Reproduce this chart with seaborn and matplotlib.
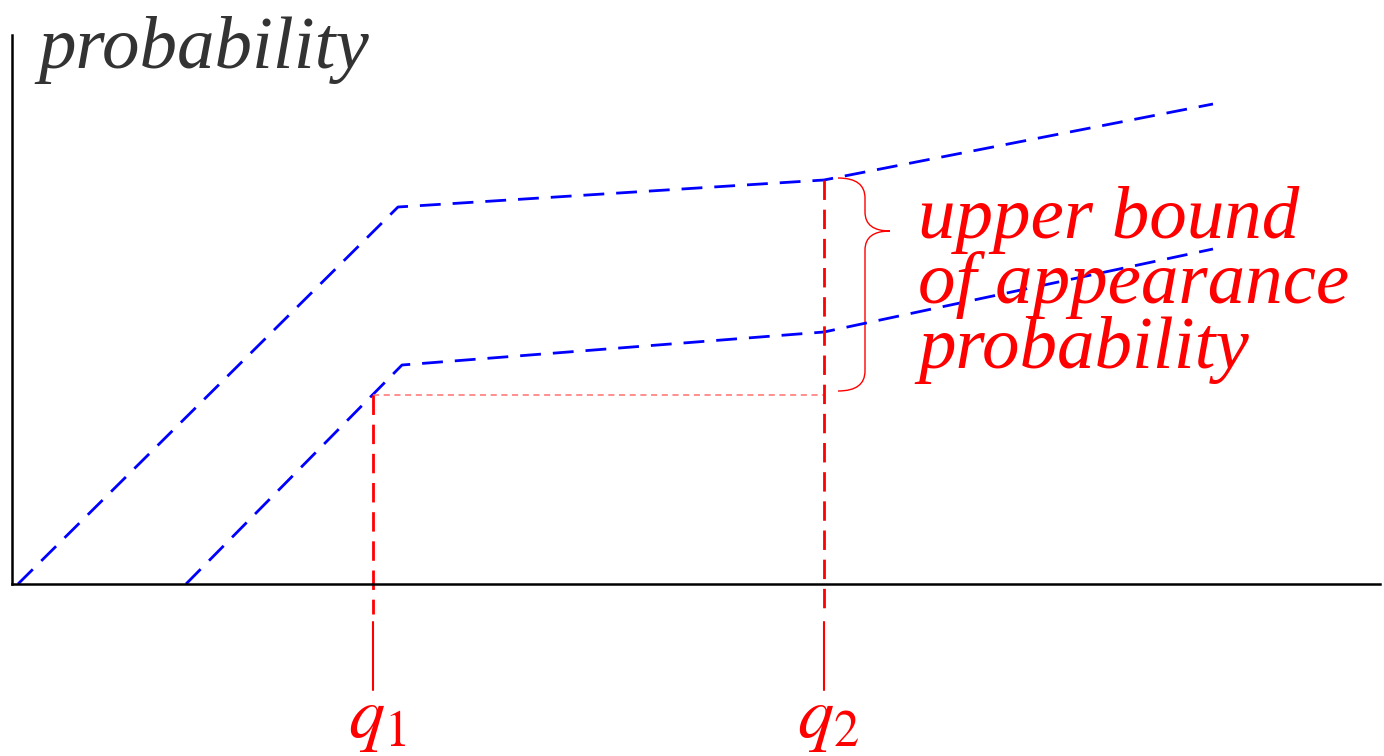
import numpy as np
import pandas as pd
import matplotlib
matplotlib.use('Agg')
import matplotlib.pyplot as plt
import seaborn as sns
from matplotlib.path import Path
from matplotlib.patches import PathPatch

# data (axis units ~ pixels from the origin)
upper_x = [6, 386, 812, 1201]
upper_y = [0, 377, 404, 480]
lower_x = [174, 390, 812, 1201]
lower_y = [0, 219, 252, 335]
q1 = 361
q2 = 812
q1_level = 189
q2_level = 404
brace_text = ['upper bound', 'of appearance', 'probability']

sns.set_style('white')
plt.rcParams['font.family'] = ['Liberation Serif', 'DejaVu Serif']
plt.rcParams['mathtext.fontset'] = 'stix'

fig = plt.figure(figsize=(13.84, 7.56), dpi=100)
ax = fig.add_axes([12 / 1384, (756 - 584) / 756, 1368 / 1384, 549 / 756])

df = pd.concat([
    pd.DataFrame({'x': upper_x, 'y': upper_y, 'curve': 'upper'}),
    pd.DataFrame({'x': lower_x, 'y': lower_y, 'curve': 'lower'}),
])
for name, part in df.groupby('curve'):
    sns.lineplot(data=part, x='x', y='y', sort=False, ax=ax, color='blue',
                 lw=2.0, dashes=False, estimator=None)
for line in ax.lines:
    line.set_dashes((7.5, 4.3))

# horizontal guide at q1 level
ax.plot([q1, q2], [q1_level, q1_level], color='#ff7070', lw=1.1,
        dashes=(4, 3))

# vertical red lines for q1, q2
for q, top in [(q1, q1_level), (q2, q2_level)]:
    ax.plot([q, q], [top, -30], color='red', lw=2.0, dashes=(7, 3.5),
            clip_on=False)
    ax.plot([q, q], [-38, -106], color='red', lw=1.5, clip_on=False)

ax.text(q1 + 4, -153, r'$q_1$', color='red', fontsize=52, ha='center',
        va='baseline', clip_on=False)
ax.text(q2 + 4, -153, r'$q_2$', color='red', fontsize=52, ha='center',
        va='baseline', clip_on=False)

# curly brace
verts = [(826, 406), (853, 406), (853, 386),
         (853, 372),
         (853, 353), (878, 353),
         (853, 353), (853, 334),
         (853, 213),
         (853, 193), (826, 193)]
codes = [Path.MOVETO, Path.CURVE3, Path.CURVE3,
         Path.LINETO,
         Path.CURVE3, Path.CURVE3,
         Path.CURVE3, Path.CURVE3,
         Path.LINETO,
         Path.CURVE3, Path.CURVE3]
ax.add_patch(PathPatch(Path(verts, codes), fill=False, edgecolor='red',
                       lw=1.0, clip_on=False))

for i, t in enumerate(brace_text):
    ax.text(906, 346 - i * 65, t, color='red', fontsize=54, style='italic',
            ha='left', va='baseline', clip_on=False)

ax.text(26, 516, 'probability', color='#333333', fontsize=54,
        style='italic', ha='left', va='baseline', clip_on=False)

ax.set_xlim(0, 1368)
ax.set_ylim(0, 549)
ax.set_xticks([])
ax.set_yticks([])
ax.set_xlabel('')
ax.set_ylabel('')
for s in ['top', 'right']:
    ax.spines[s].set_visible(False)
for s in ['left', 'bottom']:
    ax.spines[s].set_color('black')
    ax.spines[s].set_linewidth(1.8)

fig.savefig('out.png', dpi=100)
